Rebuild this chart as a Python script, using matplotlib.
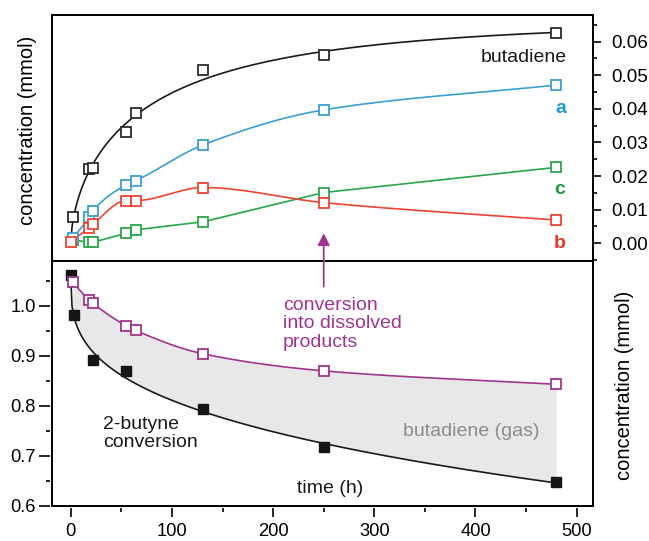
import numpy as np
import matplotlib
matplotlib.use('Agg')
import matplotlib.pyplot as plt
from matplotlib.patches import Rectangle, ConnectionPatch
from matplotlib.ticker import MultipleLocator, FormatStrFormatter

plt.rcParams['font.family'] = ['Liberation Sans', 'DejaVu Sans']

# top panel: product concentrations (mmol) vs time (h)
t_top = [2, 18, 22, 55, 64, 131, 250, 480]
butadiene = [0.0077, 0.0222, 0.0225, 0.0331, 0.0387, 0.0516, 0.0560, 0.0627]
prod_a = [0.0015, 0.0077, 0.0097, 0.0174, 0.0186, 0.0293, 0.0397, 0.0471]
t_b = [0, 18, 22, 55, 64, 131, 250, 480]
prod_b = [0.0005, 0.0046, 0.0057, 0.0127, 0.0127, 0.0166, 0.0121, 0.0069]
prod_c = [0.0010, 0.0003, 0.0003, 0.0030, 0.0040, 0.0064, 0.0151, 0.0226]

# bottom panel: 2-butyne remaining and dissolved-product conversion
t_conv = [0, 3, 22, 55, 131, 250, 480]
butyne = [1.061, 0.982, 0.892, 0.869, 0.793, 0.717, 0.647]
t_diss = [2, 18, 22, 55, 64, 131, 250, 480]
dissolved = [1.047, 1.012, 1.005, 0.960, 0.951, 0.904, 0.870, 0.843]

BLACK = '#1a1a1a'
BLUE = '#3c9fd2'
RED = '#ee4433'
GREEN = '#2aa64a'
PURPLE = '#a0358f'


def pchip(x, y, xs):
    # monotone cubic line through the measured points
    x = np.asarray(x, float)
    y = np.asarray(y, float)
    h = np.diff(x)
    d = np.diff(y) / h
    m = np.zeros_like(y)
    m[0], m[-1] = d[0], d[-1]
    for k in range(1, len(x) - 1):
        if d[k - 1] * d[k] > 0:
            w1 = 2 * h[k] + h[k - 1]
            w2 = h[k] + 2 * h[k - 1]
            m[k] = (w1 + w2) / (w1 / d[k - 1] + w2 / d[k])
    i = np.clip(np.searchsorted(x, xs) - 1, 0, len(h) - 1)
    s = (xs - x[i]) / h[i]
    return ((2 * s**3 - 3 * s**2 + 1) * y[i] + (s**3 - 2 * s**2 + s) * h[i] * m[i]
            + (-2 * s**3 + 3 * s**2) * y[i + 1] + (s**3 - s**2) * h[i] * m[i + 1])


# stretched-exponential fit for butadiene: y = A (1 - exp(-(t/tau)^n))
tt = np.array(t_top, float)
yy = np.array(butadiene)
best = None
for tau in np.arange(10, 200, 1.0):
    for n in np.arange(0.4, 1.3, 0.02):
        f = 1 - np.exp(-(tt / tau) ** n)
        A = (f @ yy) / (f @ f)
        err = np.sum((A * f - yy) ** 2)
        if best is None or err < best[0]:
            best = (err, A, tau, n)
_, A_fit, tau_fit, n_fit = best

# power-law fit for 2-butyne: y = a - b t^p
tc = np.array(t_conv, float)
yc = np.array(butyne)
best = None
for p in np.arange(0.1, 1.0, 0.005):
    X = np.column_stack([np.ones_like(tc), tc ** p])
    coef = np.linalg.lstsq(X, yc, rcond=None)[0]
    err = np.sum((X @ coef - yc) ** 2)
    if best is None or err < best[0]:
        best = (err, coef, p)
_, coef_fit, p_fit = best

fig = plt.figure(figsize=(6.49, 5.41), dpi=100)
left, width = 0.0797, 0.8335
ax_top = fig.add_axes([left, 0.5176, width, 0.4547])
ax_bot = fig.add_axes([left, 0.0652, width, 0.4524])

# ---- top panel ----
tg = np.linspace(0, 480, 400)
ax_top.plot(tg, A_fit * (1 - np.exp(-(tg / tau_fit) ** n_fit)), color=BLACK, lw=1.2)
ax_top.plot(t_top, prod_c, color=GREEN, lw=1.2)
tg2 = np.linspace(2, 480, 400)
ax_top.plot(tg2, pchip(t_top, prod_a, tg2), color=BLUE, lw=1.2)
ax_top.plot(tg, pchip(t_b, prod_b, tg), color=RED, lw=1.2)

mk = dict(marker='s', ls='none', ms=7, mew=1.3, mfc='white')
ax_top.plot(t_top, butadiene, mec='#2b2b2b', **mk)
ax_top.plot(t_top, prod_c, mec=GREEN, **mk)
ax_top.plot(t_top, prod_a, mec=BLUE, **mk)
ax_top.plot(t_b, prod_b, mec=RED, **mk)

ax_top.text(490, 0.0554, 'butadiene', ha='right', va='center', fontsize=14, color=BLACK)
ax_top.text(484, 0.0402, 'a', ha='center', va='center', fontsize=14, color='#1d9ad8', fontweight='bold')
ax_top.text(483, 0.0161, 'c', ha='center', va='center', fontsize=14, color='#1f9a3e', fontweight='bold')
ax_top.text(483, 0.0000, 'b', ha='center', va='center', fontsize=14, color='#e8392a', fontweight='bold')

ax_top.set_xlim(-18.8, 515.8)
ax_top.set_ylim(-0.00527, 0.06795)
ax_top.yaxis.tick_right()
ax_top.yaxis.set_major_locator(MultipleLocator(0.01))
ax_top.yaxis.set_minor_locator(MultipleLocator(0.005))
ax_top.yaxis.set_major_formatter(FormatStrFormatter('%.2f'))
ax_top.tick_params(axis='y', which='major', direction='out', length=4.8, width=1.2,
                   labelsize=13.6, pad=7.5, right=True, left=False)
ax_top.tick_params(axis='y', which='minor', direction='out', length=2.4, width=1.2,
                   right=True, left=False)
ax_top.set_xticks([])
ax_top.spines['right'].set_position(('outward', 1))
for s in ax_top.spines.values():
    s.set_visible(False)
ax_top.add_patch(Rectangle((0, 0), 1, 1, transform=ax_top.transAxes, fill=False,
                           lw=1.4, color='black', clip_on=False))

# ---- bottom panel ----
tf = np.linspace(2, 480, 400)
ax_bot.fill_between(tf, pchip(t_diss, dissolved, tf),
                    coef_fit[0] + coef_fit[1] * tf ** p_fit, color='#e9e8e8', lw=0)
tb = np.linspace(0, 480, 400)
ax_bot.plot(tb, coef_fit[0] + coef_fit[1] * tb ** p_fit, color=BLACK, lw=1.2)
ax_bot.plot(tf, pchip(t_diss, dissolved, tf), color=PURPLE, lw=1.2)
ax_bot.plot(t_conv, butyne, marker='s', ls='none', ms=7.5, color='#151515')
ax_bot.plot(t_diss, dissolved, mec=PURPLE, **mk)

ax_bot.text(32, 0.744, '2-butyne\nconversion', ha='left', va='center', fontsize=14,
            linespacing=1.1, color=BLACK)
ax_bot.text(209.5, 0.964, 'conversion\ninto dissolved\nproducts', ha='left', va='center',
            fontsize=14, linespacing=1.1, color=PURPLE)
ax_bot.text(396, 0.749, 'butadiene (gas)', ha='center', va='center', fontsize=14, color='#8c8c8c')
ax_bot.text(256, 0.634, 'time (h)', ha='center', va='center', fontsize=14, color=BLACK)

ax_bot.set_xlim(-18.8, 515.8)
ax_bot.set_ylim(0.6, 1.09)
ax_bot.xaxis.set_major_locator(MultipleLocator(100))
ax_bot.xaxis.set_minor_locator(MultipleLocator(50))
ax_bot.yaxis.set_major_locator(MultipleLocator(0.1))
ax_bot.yaxis.set_minor_locator(MultipleLocator(0.05))
ax_bot.yaxis.set_major_formatter(FormatStrFormatter('%.1f'))
ax_bot.tick_params(axis='x', which='major', direction='out', length=6.7, width=1.2,
                   labelsize=13.2, pad=4.2)
ax_bot.tick_params(axis='x', which='minor', direction='out', length=3.1, width=1.2)
ax_bot.tick_params(axis='y', which='major', direction='out', length=7.7, width=1.2,
                   labelsize=13.2, pad=2.5)
ax_bot.tick_params(axis='y', which='minor', direction='out', length=2.9, width=1.2)
ax_bot.spines['bottom'].set_position(('outward', 1.5))
ax_bot.spines['left'].set_position(('outward', 1.2))
for s in ax_bot.spines.values():
    s.set_visible(False)
ax_bot.add_patch(Rectangle((0, 0), 1, 1, transform=ax_bot.transAxes, fill=False,
                           lw=1.4, color='black', clip_on=False))

# arrow from the bottom text up into the top panel
arrow = ConnectionPatch(xyA=(250, 1.0386), coordsA=ax_bot.transData,
                        xyB=(250, 0.003), coordsB=ax_top.transData,
                        arrowstyle='-|>', color=PURPLE, lw=1.3, mutation_scale=18)
fig.add_artist(arrow)

fig.text(28 / 649, 1 - 130 / 541, 'concentration (mmol)', rotation=90,
         ha='center', va='center', fontsize=14.5)
fig.text(625 / 649, 1 - 385 / 541, 'concentration (mmol)', rotation=90,
         ha='center', va='center', fontsize=14.5)

fig.savefig('out.png', dpi=100)
